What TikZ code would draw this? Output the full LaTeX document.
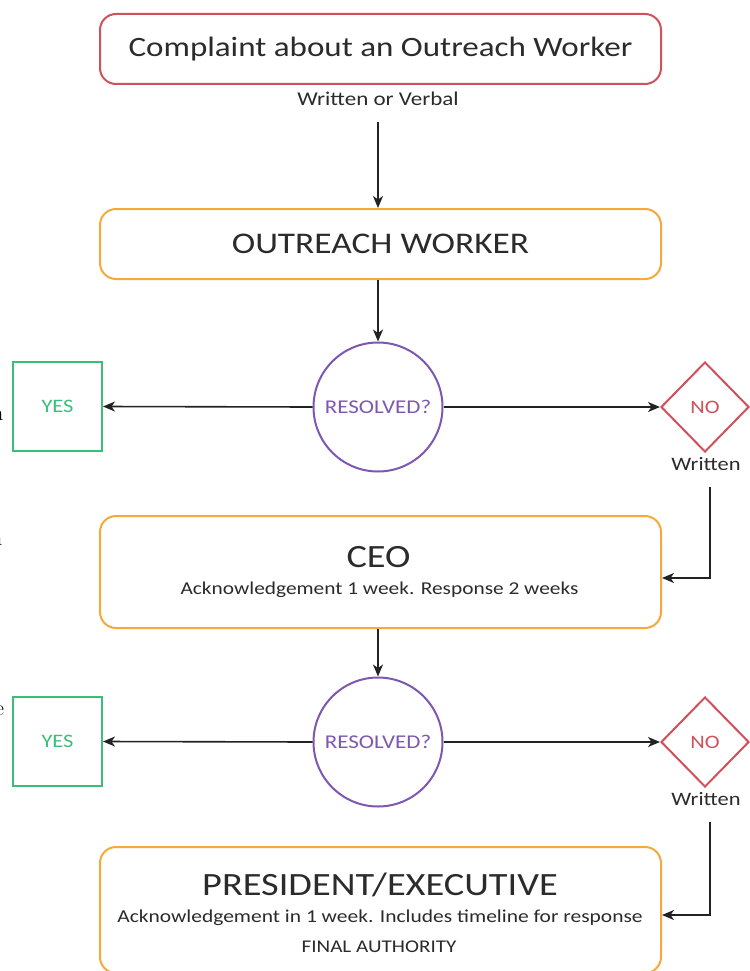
\documentclass[tikz,border=0pt]{standalone}
\usepackage{fontspec}
\newfontfamily\chartfont[FakeStretch=1.18]{Carlito}
\usetikzlibrary{arrows.meta,shapes.geometric}
\definecolor{boxred}{HTML}{D0505C}
\definecolor{boxorange}{HTML}{F6A93B}
\definecolor{qpurple}{HTML}{7E57B0}
\definecolor{okgreen}{HTML}{3CBE7A}
\definecolor{ink}{HTML}{2B2B2B}
\definecolor{wire}{HTML}{222222}
\tikzset{
  fs/.style={font=\chartfont\fontsize{#1}{#1}\selectfont},
  stagebox/.style={draw=boxorange, line width=2pt, rounded corners=16pt,
    minimum width=561pt, text=ink, inner sep=0pt},
  startbox/.style={draw=boxred, line width=2pt, rounded corners=16pt,
    minimum width=561pt, minimum height=70pt, text=ink, inner sep=0pt},
  askcircle/.style={draw=qpurple, line width=2pt, circle, minimum size=129pt,
    inner sep=0pt, text=qpurple, fs=19.5},
  yesbox/.style={draw=okgreen, line width=2pt, minimum width=89pt,
    minimum height=89pt, inner sep=0pt, text=okgreen, fs=19},
  nodiamond/.style={draw=boxred, line width=2pt, diamond, minimum width=88pt,
    minimum height=90pt, inner sep=0pt, text=boxred, fs=19},
  note/.style={text=ink, inner sep=0pt},
  arr/.style={draw=wire, line width=1.6pt, -{Stealth[length=12pt,width=10pt,inset=3.5pt]}},
  edgeglyph/.style={font=\rmfamily\fontsize{22}{22}\selectfont, text=black, inner sep=0pt},
}
\begin{document}
\begin{tikzpicture}[x=1pt,y=-1pt]
\useasboundingbox[fill=white] (0,0) rectangle (749,971);

% clipped glyphs of neighbouring text at the left edge
\node[edgeglyph, anchor=base west] at (-9,26) {,};
\node[edgeglyph, anchor=base west] at (-8,420) {n};
\node[edgeglyph, anchor=base west] at (-9,545) {n};
\node[edgeglyph, anchor=base west] at (-5,715) {e};
\node[edgeglyph, anchor=base west] at (-9,730) {.};

% start of the procedure
\node[startbox, fs=28] (complaint) at (380.5,49) {Complaint about an Outreach Worker};
\node[note, fs=19.5] (how) at (378,99) {Written or Verbal};
\coordinate (howtail) at (378,122);

\node[stagebox, minimum height=70pt, fs=30] (worker) at (380.5,244) {OUTREACH WORKER};

% first decision
\node[askcircle] (ask1) at (378,407) {RESOLVED?};
\node[yesbox] (yes1) at (57.5,406.5) {YES};
\node[nodiamond] (no1) at (705,407) {NO};
\node[note, fs=19] (wr1) at (706,464) {Written};
\coordinate (wr1tail) at (710,487);

% CEO stage
\node[stagebox, minimum height=112pt] (ceo) at (380.5,572) {};
\node[note, fs=32.5] (ceotitle) at (378.5,557) {CEO};
\node[note, fs=18.1] (ceotext) at (379.5,590) {Acknowledgement 1 week. Response 2 weeks};

% second decision
\node[askcircle] (ask2) at (378,742) {RESOLVED?};
\node[yesbox] (yes2) at (57.5,741.5) {YES};
\node[nodiamond] (no2) at (705,742) {NO};
\node[note, fs=19] (wr2) at (706,799) {Written};
\coordinate (wr2tail) at (710,822);

% final stage
\node[stagebox, minimum height=126pt] (pres) at (380.5,910) {};
\node[note, fs=32.5] (prestitle) at (380,885) {PRESIDENT/EXECUTIVE};
\node[note, fs=18.2] (prestext) at (380,918) {Acknowledgement in 1 week. Includes timeline for response};
\node[note, fs=17.9] (final) at (379,947) {FINAL AUTHORITY};

% connectors
\draw[arr] (howtail) -- (howtail |- worker.north);
\draw[arr] (ask1 |- worker.south) -- (ask1.north);
\draw[arr] (ask1.west) -- (yes1.east);
\draw[arr] (ask1.east) -- (no1.west);
\draw[arr] (wr1tail) |- (ceo.east |- 0,578);
\draw[arr] (ask2 |- ceo.south) -- (ask2.north);
\draw[arr] (ask2.west) -- (yes2.east);
\draw[arr] (ask2.east) -- (no2.west);
\draw[arr] (wr2tail) |- (pres.east |- 0,915);
\end{tikzpicture}
\end{document}
